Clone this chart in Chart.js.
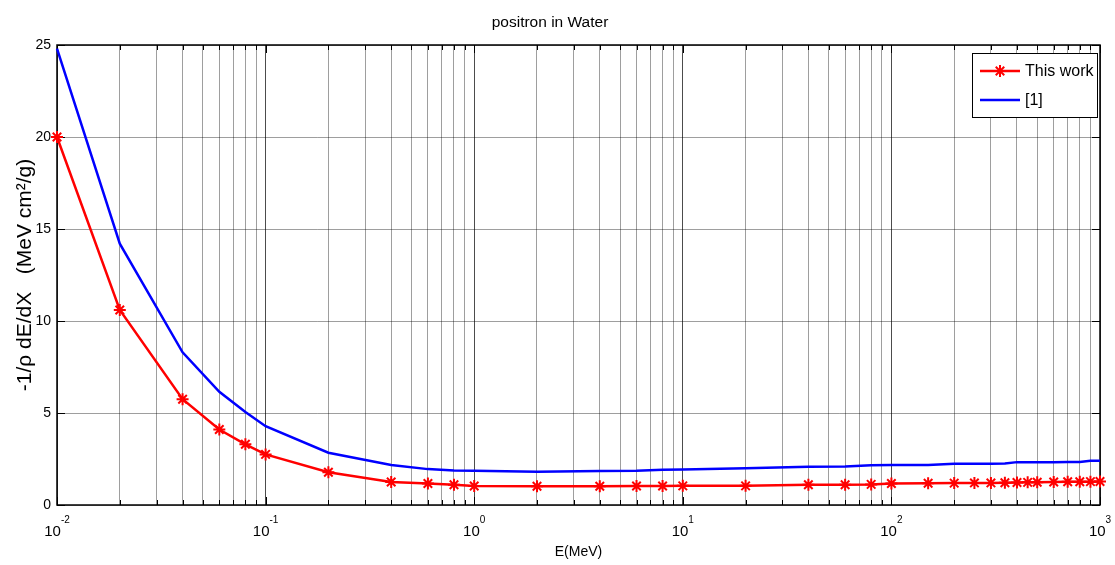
<!DOCTYPE html>
<html>
<head>
<meta charset="utf-8">
<title>positron in Water</title>
<script src="https://cdn.jsdelivr.net/npm/chart.js@4.4.1/dist/chart.umd.min.js"></script>
<style>
  html, body { margin: 0; padding: 0; background: #fff; }
</style>
</head>
<body>
<canvas id="chart" width="1115" height="565"></canvas>
<script>
// Energy grid (MeV) shared by both curves
const energies = [0.01, 0.02, 0.04, 0.06, 0.08, 0.1, 0.2, 0.4, 0.6, 0.8,
                  1, 2, 4, 6, 8, 10, 20, 40, 60, 80,
                  100, 150, 200, 250, 300, 350, 400, 450, 500, 600,
                  700, 800, 900, 1000];

// Stopping power, -1/rho dE/dX (MeV cm2/g)
const thisWork = [20.0, 10.6, 5.75, 4.1, 3.3, 2.75, 1.78, 1.25, 1.17, 1.1,
                  1.03, 1.02, 1.02, 1.03, 1.03, 1.04, 1.04, 1.1, 1.1, 1.12,
                  1.17, 1.18, 1.19, 1.2, 1.2, 1.21, 1.22, 1.23, 1.24, 1.25,
                  1.26, 1.26, 1.27, 1.28];
const reference1 = [24.8, 14.2, 8.3, 6.15, 5.05, 4.28, 2.84, 2.17, 1.95, 1.88,
                    1.86, 1.81, 1.85, 1.86, 1.92, 1.93, 2.0, 2.08, 2.09, 2.16,
                    2.17, 2.18, 2.24, 2.24, 2.24, 2.25, 2.33, 2.33, 2.33, 2.33,
                    2.34, 2.34, 2.4, 2.41];

// Axis ticks
const yTicks = [0, 5, 10, 15, 20, 25];
const decadeValues = [0.01, 0.1, 1, 10, 100, 1000];
const decadeBase = '10';
const decadeExponents = ['-2', '-1', '0', '1', '2', '3'];

const FONT = "'Liberation Sans', Arial, sans-serif";

function isDecade(v) {
    return decadeValues.some(d => Math.abs(d - v) < d * 1e-6);
}

// Box around the axes plus inward tick marks (MATLAB style)
const frameAndTicks = {
    id: 'frameAndTicks',
    beforeDatasetsDraw(chart) {
        const { ctx, chartArea: a, scales } = chart;
        ctx.save();
        ctx.strokeStyle = '#000';
        ctx.lineWidth = 1;
        scales.x.ticks.forEach(t => {
            const px = Math.round(scales.x.getPixelForValue(t.value)) + 0.5;
            const len = isDecade(t.value) ? 8 : 5;
            ctx.beginPath();
            ctx.moveTo(px, a.bottom); ctx.lineTo(px, a.bottom - len);
            ctx.moveTo(px, a.top); ctx.lineTo(px, a.top + len);
            ctx.stroke();
        });
        scales.y.ticks.forEach(t => {
            const py = Math.round(scales.y.getPixelForValue(t.value)) + 0.5;
            ctx.beginPath();
            ctx.moveTo(a.left, py); ctx.lineTo(a.left + 8, py);
            ctx.moveTo(a.right, py); ctx.lineTo(a.right - 8, py);
            ctx.stroke();
        });
        ctx.lineWidth = 1.5;
        ctx.strokeRect(a.left, a.top, a.right - a.left, a.bottom - a.top);
        ctx.restore();
    }
};

// Decade labels written as 10 with a raised exponent
const powerLabels = {
    id: 'powerLabels',
    afterDraw(chart) {
        const { ctx, scales } = chart;
        const baseFont = '15px ' + FONT;
        const expFont = '10px ' + FONT;
        const yBase = scales.x.top + 31;
        ctx.save();
        ctx.fillStyle = '#000';
        ctx.textBaseline = 'alphabetic';
        ctx.textAlign = 'left';
        decadeValues.forEach((v, i) => {
            const px = scales.x.getPixelForValue(v);
            ctx.font = baseFont;
            const wb = ctx.measureText(decadeBase).width;
            ctx.font = expFont;
            const we = ctx.measureText(decadeExponents[i]).width;
            const x0 = px - (wb + we) / 2;
            ctx.font = baseFont;
            ctx.fillText(decadeBase, x0, yBase);
            ctx.font = expFont;
            ctx.fillText(decadeExponents[i], x0 + wb, yBase - 13);
        });
        ctx.restore();
    }
};

function drawStar(ctx, x, y, r) {
    const d = r * Math.SQRT1_2;
    ctx.beginPath();
    ctx.moveTo(x - r, y); ctx.lineTo(x + r, y);
    ctx.moveTo(x, y - r); ctx.lineTo(x, y + r);
    ctx.moveTo(x - d, y - d); ctx.lineTo(x + d, y + d);
    ctx.moveTo(x - d, y + d); ctx.lineTo(x + d, y - d);
    ctx.stroke();
}

// Boxed legend in the upper right corner of the axes
const boxLegend = {
    id: 'boxLegend',
    afterDraw(chart) {
        const { ctx, chartArea: a } = chart;
        const w = 125, h = 64;
        const left = a.right - 3 - w, top = a.top + 8;
        ctx.save();
        ctx.fillStyle = '#fff';
        ctx.fillRect(left, top, w, h);
        ctx.strokeStyle = '#000';
        ctx.lineWidth = 1;
        ctx.strokeRect(left + 0.5, top + 0.5, w, h);
        chart.data.datasets.forEach((ds, i) => {
            const y = top + 18 + i * 29;
            ctx.strokeStyle = ds.borderColor;
            ctx.lineWidth = ds.borderWidth;
            ctx.beginPath();
            ctx.moveTo(left + 8, y);
            ctx.lineTo(left + 48, y);
            ctx.stroke();
            if (ds.pointRadius > 0) {
                ctx.lineWidth = ds.pointBorderWidth;
                drawStar(ctx, left + 28, y, ds.pointRadius);
            }
            ctx.fillStyle = '#000';
            ctx.font = '16px ' + FONT;
            ctx.textBaseline = 'middle';
            ctx.fillText(ds.label, left + 53, y + 1);
        });
        ctx.restore();
    }
};

const gridColor = ctx => isDecade(ctx.tick.value) ? 'rgba(0,0,0,0.7)' : 'rgba(0,0,0,0.38)';

new Chart(document.getElementById('chart'), {
    type: 'line',
    data: {
        labels: energies,
        datasets: [
            {
                label: 'This work',
                data: energies.map((e, i) => ({ x: e, y: thisWork[i] })),
                borderColor: '#ff0000',
                backgroundColor: '#ff0000',
                borderWidth: 2.5,
                pointStyle: 'star',
                pointRadius: 6,
                pointBorderWidth: 2,
                pointBorderColor: '#ff0000',
                tension: 0,
                clip: false
            },
            {
                label: '[1]',
                data: energies.map((e, i) => ({ x: e, y: reference1[i] })),
                borderColor: '#0000ff',
                backgroundColor: '#0000ff',
                borderWidth: 2.5,
                pointRadius: 0,
                tension: 0,
                clip: false
            }
        ]
    },
    options: {
        responsive: false,
        animation: false,
        layout: { padding: { left: 0, right: 15, top: 0, bottom: 0 } },
        plugins: {
            legend: { display: false },
            tooltip: { enabled: false },
            title: {
                display: true,
                text: 'positron in Water',
                color: '#000',
                font: { family: FONT, size: 15.5, weight: 'normal' },
                padding: { top: 13, bottom: 13.4 }
            }
        },
        scales: {
            x: {
                type: 'logarithmic',
                min: 0.01,
                max: 1000,
                afterBuildTicks: scale => {
                    const ticks = [];
                    for (let d = 0; d < decadeValues.length - 1; d++) {
                        for (let k = 1; k <= 9; k++) {
                            ticks.push({ value: Number((k * decadeValues[d]).toPrecision(4)) });
                        }
                    }
                    ticks.push({ value: decadeValues[decadeValues.length - 1] });
                    scale.ticks = ticks;
                },
                afterFit: scale => { scale.height = 60; },
                ticks: { display: false },
                grid: { color: gridColor, lineWidth: 1, drawTicks: false },
                border: { display: false },
                title: {
                    display: true,
                    text: 'E(MeV)',
                    color: '#000',
                    font: { family: FONT, size: 14 },
                    padding: { top: 0, bottom: 4 }
                }
            },
            y: {
                min: 0,
                max: 25,
                afterBuildTicks: scale => { scale.ticks = yTicks.map(v => ({ value: v })); },
                afterFit: scale => { scale.width = 57; },
                ticks: {
                    color: '#000',
                    padding: 6,
                    font: { family: FONT, size: 14 }
                },
                grid: { color: 'rgba(0,0,0,0.38)', lineWidth: 1, drawTicks: false },
                border: { display: false },
                title: {
                    display: true,
                    text: '-1/\u03c1 dE/dX   (MeV cm\u00b2/g)',
                    color: '#000',
                    font: { family: FONT, size: 21 },
                    padding: { top: 13, bottom: 0 }
                }
            }
        }
    },
    plugins: [frameAndTicks, powerLabels, boxLegend]
});
</script>
</body>
</html>
